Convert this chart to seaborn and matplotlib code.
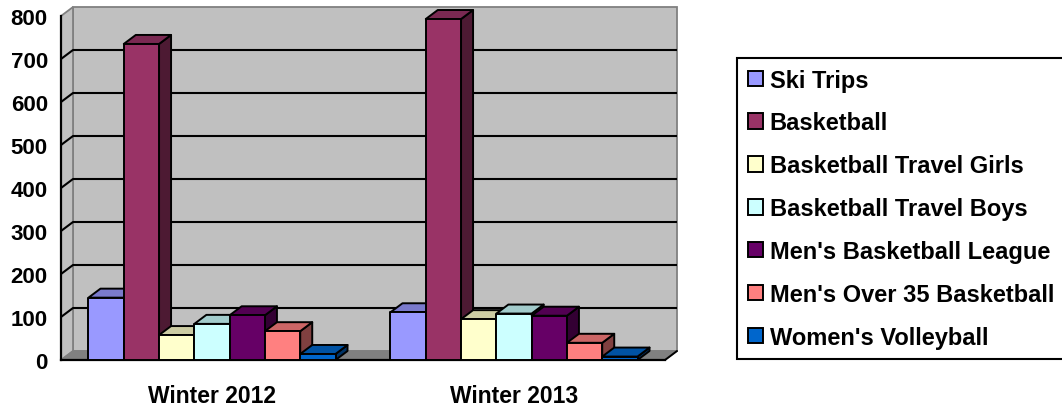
import numpy as np
import pandas as pd
import matplotlib
matplotlib.use("Agg")
import matplotlib.pyplot as plt
import seaborn as sns
from matplotlib.patches import Polygon, Rectangle, Patch
from matplotlib.colors import to_rgb

# Participation counts per program and season
seasons = ["Winter 2012", "Winter 2013"]
programs = [
    "Ski Trips",
    "Basketball",
    "Basketball Travel Girls",
    "Basketball Travel Boys",
    "Men's Basketball League",
    "Men's Over 35 Basketball",
    "Women's Volleyball",
]
winter_2012 = [145, 735, 58, 84, 104, 67, 14]
winter_2013 = [111, 793, 95, 108, 103, 40, 8]
colors = ["#9999FF", "#993366", "#FFFFCC", "#CCFFFF", "#660066", "#FF8080", "#0066CC"]
y_ticks = [0, 100, 200, 300, 400, 500, 600, 700, 800]

df = pd.DataFrame({
    "season": np.repeat(seasons, len(programs)),
    "program": programs * len(seasons),
    "count": winter_2012 + winter_2013,
})

sns.set_theme(style="white")
plt.rcParams["font.family"] = ["Liberation Sans", "DejaVu Sans"]
plt.rcParams["font.weight"] = "bold"
plt.rcParams["text.color"] = "black"
plt.rcParams["xtick.color"] = "black"
plt.rcParams["ytick.color"] = "black"

W, H = 1062, 406
fig = plt.figure(figsize=(W / 100, H / 100), dpi=100)
ax_l, ax_r, ax_b, ax_t = 61, 665, 361, 17
ax = fig.add_axes([ax_l / W, (H - ax_b) / H, (ax_r - ax_l) / W, (ax_b - ax_t) / H])
ax.set_facecolor("none")

sns.barplot(data=df, x="season", y="count", hue="program", order=seasons,
            hue_order=programs, palette=colors, saturation=1, width=0.818,
            edgecolor="black", linewidth=1.4, legend=False, ax=ax)
bars = sorted(list(ax.patches), key=lambda p: p.get_x())

ax.set_xlim(-0.5, 1.5)
ax.set_ylim(0, 800)

# depth offset of the 3D box (pixels -> data units)
DX = 12 * 2.0 / (ax_r - ax_l)
DY = 9 * 800.0 / (ax_b - ax_t)

wall_fc, wall_ec = "#C0C0C0", "#808080"
ax.add_patch(Rectangle((-0.5 + DX, DY), 2.0, 800, fc=wall_fc, ec=wall_ec,
                       lw=1.3, zorder=0.5, clip_on=False))
ax.add_patch(Polygon([(-0.5, 0), (-0.5 + DX, DY), (-0.5 + DX, 800 + DY), (-0.5, 800)],
                     closed=True, fc=wall_fc, ec=wall_ec, lw=1.3, zorder=0.6, clip_on=False))
ax.add_patch(Polygon([(-0.5, 0), (1.5, 0), (1.5 + DX, DY), (-0.5 + DX, DY)],
                     closed=True, fc="#808080", ec="#808080", lw=1.0, zorder=0.7, clip_on=False))
ax.plot([1.5, 1.5 + DX], [0, DY], color="black", lw=1.4, zorder=0.8, clip_on=False)

for v in y_ticks[1:-1]:
    ax.plot([-0.5 + DX, 1.5 + DX], [v + DY, v + DY], color="black", lw=1.5,
            zorder=1, clip_on=False, solid_capstyle="butt")
    ax.plot([-0.5, -0.5 + DX], [v, v + DY], color="black", lw=1.5,
            zorder=1, clip_on=False)

# extrude every bar: side face, top face, then front face, left to right
for k, p in enumerate(bars):
    x0, w, h = p.get_x(), p.get_width(), p.get_height()
    rgb = np.array(to_rgb(p.get_facecolor()))
    z = 3 + k * 0.1
    side = Polygon([(x0 + w, 0), (x0 + w + DX, DY), (x0 + w + DX, h + DY), (x0 + w, h)],
                   closed=True, fc=rgb * 0.5, ec="black", lw=1.4, zorder=z,
                   clip_on=False, joinstyle="round")
    top = Polygon([(x0, h), (x0 + w, h), (x0 + w + DX, h + DY), (x0 + DX, h + DY)],
                  closed=True, fc=rgb * 0.8, ec="black", lw=1.4, zorder=z + 0.01,
                  clip_on=False, joinstyle="round")
    ax.add_patch(side)
    ax.add_patch(top)
    p.set_zorder(z + 0.02)
    p.set_clip_on(False)
    p.set_joinstyle("round")

# axes lines and ticks
for s in ["top", "right"]:
    ax.spines[s].set_visible(False)
for s in ["left", "bottom"]:
    ax.spines[s].set_color("black")
    ax.spines[s].set_linewidth(1.6)
    ax.spines[s].set_zorder(2)

ax.set_yticks(y_ticks)
ax.set_yticklabels([str(v) for v in y_ticks], fontsize=16, fontweight="bold", color="black")
ax.tick_params(axis="y", direction="out", length=4.5, width=1.6, pad=5, color="black")
ax.set_xticks([0, 1])
ax.set_xticklabels(seasons, fontsize=16.5, fontweight="bold", color="black")
ax.set_xticks([-0.5, 0.5, 1.5], minor=True)
ax.tick_params(axis="x", which="major", length=0, pad=17)
ax.tick_params(axis="x", which="minor", direction="out", length=4.5, width=1.6, color="black")
ax.set_xlabel("")
ax.set_ylabel("")
ax.grid(False)

handles = [Patch(fc=c, ec="black", lw=1.4) for c in colors]
leg = fig.legend(handles, programs, loc="upper left",
                 bbox_to_anchor=(737 / W, 1 - 59 / H), frameon=True, fancybox=False,
                 edgecolor="black", framealpha=1, prop={"size": 17, "weight": "bold"},
                 handlelength=0.64, handleheight=0.64, handletextpad=0.3,
                 labelspacing=0.84, borderpad=0.45, borderaxespad=0)
leg.get_frame().set_linewidth(1.5)
for t in leg.get_texts():
    t.set_color("black")

fig.savefig("out.png", dpi=100)
